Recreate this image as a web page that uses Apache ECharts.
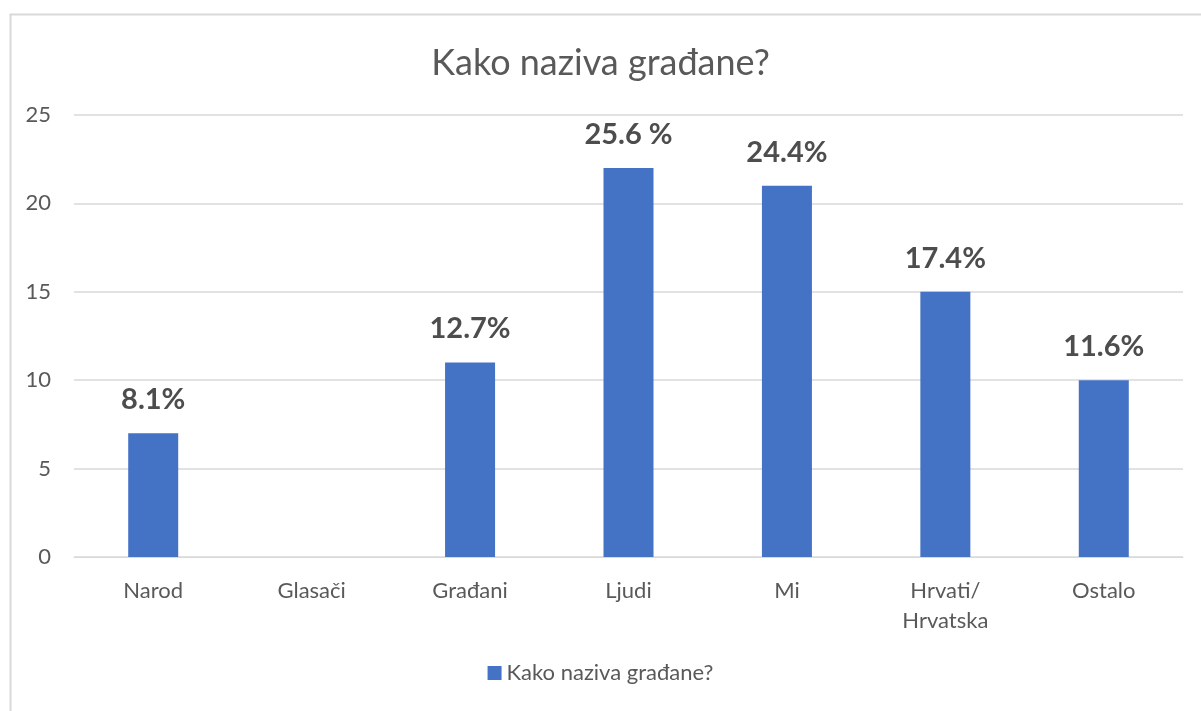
<!DOCTYPE html>
<html><head><meta charset="utf-8">
<script src="https://cdn.jsdelivr.net/npm/echarts@6/dist/echarts.min.js"></script>
<style>html,body{margin:0;padding:0;background:#fff}#c{width:1201px;height:711px}</style>
</head><body><div id="c"></div>
<script>
const categories = ['Narod', 'Glasači', 'Građani', 'Ljudi', 'Mi', 'Hrvati/\nHrvatska', 'Ostalo'];
const values = [7, 0, 11, 22, 21, 15, 10];
const pctLabels = ['8.1%', '', '12.7%', '25.6 %', '24.4%', '17.4%', '11.6%'];
const yTicks = [0, 5, 10, 15, 20, 25];
const seriesName = 'Kako naziva građane?';
const titleText = 'Kako naziva građane?';

const FONT = 'Lato, "Open Sans", sans-serif';
const chart = echarts.init(document.getElementById('c'), null, {renderer: 'canvas'});
chart.setOption({
  animation: false,
  backgroundColor: '#fff',
  graphic: [{
    type: 'rect', left: 8, top: 12, z: -1,
    shape: {width: 1300, height: 800},
    style: {fill: 'none', stroke: '#d9d9d9', lineWidth: 2}
  }],
  title: {
    text: titleText, left: 'center', top: 40,
    textStyle: {fontFamily: FONT, fontSize: 36, fontWeight: 'normal', color: '#595959'}
  },
  legend: {
    bottom: 22, left: 'center',
    itemWidth: 14, itemHeight: 14, icon: 'rect', itemGap: 8,
    textStyle: {fontFamily: FONT, fontSize: 22, color: '#595959'},
    data: [seriesName]
  },
  grid: {left: 74, right: 18, top: 115, bottom: 154, containLabel: false},
  xAxis: {
    type: 'category', data: categories,
    axisLine: {show: true, lineStyle: {color: '#d9d9d9', width: 1}},
    axisTick: {show: false},
    axisLabel: {fontFamily: FONT, fontSize: 22, color: '#595959', margin: 19, lineHeight: 30, interval: 0}
  },
  yAxis: {
    type: 'value', min: yTicks[0], max: yTicks[yTicks.length - 1], interval: 5,
    axisLine: {show: false}, axisTick: {show: false},
    splitLine: {lineStyle: {color: '#d9d9d9', width: 1.5}},
    axisLabel: {fontFamily: FONT, fontSize: 22, color: '#595959', margin: 23}
  },
  series: [{
    name: seriesName, type: 'bar', barWidth: 50,
    itemStyle: {color: '#4472C4'},
    data: values,
    label: {
      show: true, position: 'top', distance: 19,
      fontFamily: FONT, fontSize: 29, fontWeight: 'bold', color: '#4d4d4d',
      formatter: p => pctLabels[p.dataIndex]
    }
  }]
});
</script></body></html>
